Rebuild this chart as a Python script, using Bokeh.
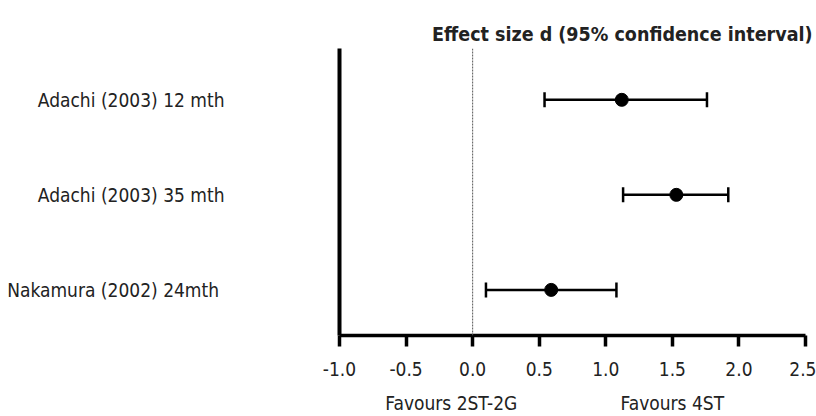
from bokeh.plotting import figure
from bokeh.models import (Range1d, FixedTicker, LinearAxis, Span, Whisker, TeeHead,
                          ColumnDataSource, NumeralTickFormatter, CustomJSTickFormatter)
from bokeh.embed import file_html
from bokeh.resources import INLINE

# ---- data ----
study_labels = ["Adachi (2003) 12 mth", "Adachi (2003) 35 mth", "Nakamura (2002)  24mth"]
row_pos = [3, 2, 1]
effect = [1.12, 1.53, 0.59]
ci_lower = [0.54, 1.13, 0.10]
ci_upper = [1.76, 1.92, 1.08]
x_ticks = [-1.0, -0.5, 0.0, 0.5, 1.0, 1.5, 2.0, 2.5]
favour_labels = ["Favours 2ST-2G", "Favours 4ST"]
favour_pos = [-0.16, 1.5]
title_text = "Effect size d (95% confidence interval)"

FONT = "DejaVu Sans Condensed"
TXT = "#222222"

src = ColumnDataSource(dict(y=row_pos, d=effect, lo=ci_lower, hi=ci_upper))

p = figure(width=816, height=416, output_backend="svg", toolbar_location=None,
           x_range=Range1d(-1.0, 2.5), y_range=Range1d(0.52, 3.54),
           min_border_left=339, min_border_right=11, min_border_top=48, min_border_bottom=76)
p.outline_line_color = None
p.xgrid.visible = False
p.ygrid.visible = False

# title
p.title.text = title_text
p.title.align = "right"
p.title.text_font = FONT
p.title.text_font_size = "19.5px"
p.title.text_font_style = "bold"
p.title.text_color = TXT
p.title.offset = -7
p.title.standoff = 6

# x axis
xa = p.xaxis[0]
xa.ticker = FixedTicker(ticks=x_ticks)
xa.formatter = NumeralTickFormatter(format="0.0")
xa.axis_line_width = 3.5
xa.major_tick_line_width = 3.5
xa.major_tick_out = 11
xa.major_tick_in = 0
xa.minor_tick_line_color = None
xa.major_label_text_font = FONT
xa.major_label_text_font_size = "19px"
xa.major_label_text_color = TXT
xa.major_label_standoff = 15

fav_axis = LinearAxis(ticker=FixedTicker(ticks=favour_pos),
                      formatter=CustomJSTickFormatter(args=dict(labels=favour_labels),
                                                      code="return labels[index];"),
                      axis_line_color=None, major_tick_line_color=None,
                      minor_tick_line_color=None,
                      major_label_text_font=FONT, major_label_text_font_size="19px",
                      major_label_text_color=TXT, major_label_standoff=7)
p.add_layout(fav_axis, "below")

# y axis
ya = p.yaxis[0]
ya.ticker = FixedTicker(ticks=row_pos)
ya.major_label_overrides = {r: s for r, s in zip(row_pos, study_labels)}
ya.axis_line_width = 4
ya.major_tick_line_color = None
ya.minor_tick_line_color = None
ya.major_label_text_font = FONT
ya.major_label_text_font_size = "19px"
ya.major_label_text_color = TXT
ya.major_label_standoff = 109

# null line
p.add_layout(Span(location=0, dimension="height", line_color="#555555",
                  line_width=1, line_dash="2 1"))

# CIs
p.add_layout(Whisker(source=src, base="y", lower="lo", upper="hi", dimension="width",
                     line_color="black", line_width=2.5,
                     lower_head=TeeHead(size=15, line_width=2.5, line_color="black"),
                     upper_head=TeeHead(size=15, line_width=2.5, line_color="black")))
p.scatter("d", "y", source=src, size=13, color="black")

open("out.html", "w").write(file_html(p, INLINE))
